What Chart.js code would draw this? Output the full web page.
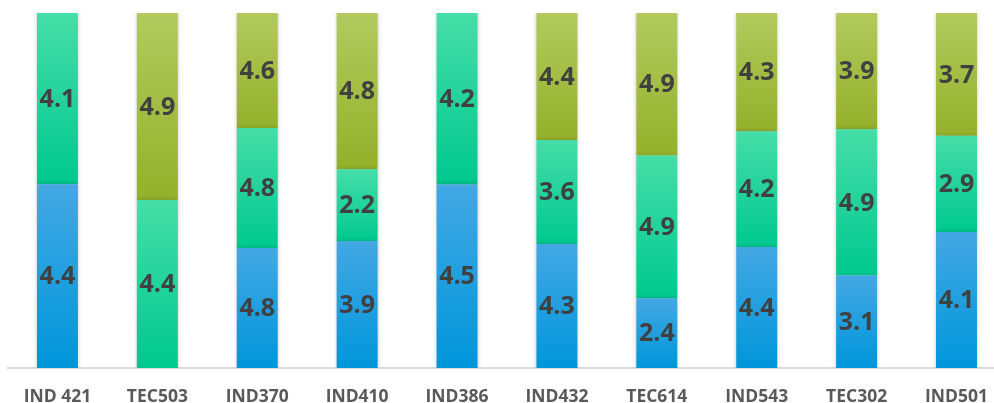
<!DOCTYPE html>
<html>
<head>
<meta charset="utf-8">
<script src="https://cdn.jsdelivr.net/npm/chart.js@4/dist/chart.umd.min.js"></script>
<style>
    html, body { margin: 0; padding: 0; background: #fff; overflow: hidden; }
    #wrap { width: 1007px; height: 427px; position: relative; }
</style>
</head>
<body>
<div id="wrap"><canvas id="chart"></canvas></div>
<script>
const categories = ['IND 421', 'TEC503', 'IND370', 'IND410', 'IND386', 'IND432', 'TEC614', 'IND543', 'TEC302', 'IND501'];
const blueValues = [4.4, null, 4.8, 3.9, 4.5, 4.3, 2.4, 4.4, 3.1, 4.1];
const greenValues = [4.1, 4.4, 4.8, 2.2, 4.2, 3.6, 4.9, 4.2, 4.9, 2.9];
const oliveValues = [null, 4.9, 4.6, 4.8, null, 4.4, 4.9, 4.3, 3.9, 3.7];

const series = [blueValues, greenValues, oliveValues];
const gradientStops = [
    ['#43a8e4', '#0096da'],
    ['#46dda8', '#00c98e'],
    ['#b2ca5e', '#95b02a']
];

// totals per category so the stack fills 100%
const totals = categories.map((c, i) => series.reduce((s, arr) => s + (arr[i] || 0), 0));
const percents = series.map(arr => arr.map((v, i) => v == null ? null : v / totals[i] * 100));

function segmentGradient(context) {
    const chart = context.chart;
    const area = chart.chartArea;
    if (!area || !chart.scales.y) return gradientStops[context.datasetIndex][1];
    const d = context.datasetIndex, i = context.dataIndex;
    let below = 0;
    for (let k = 0; k < d; k++) below += percents[k][i] || 0;
    const top = below + (percents[d][i] || 0);
    const y = chart.scales.y;
    const yTop = y.getPixelForValue(top);
    const yBot = y.getPixelForValue(below);
    if (!isFinite(yTop) || !isFinite(yBot) || yTop === yBot) return gradientStops[d][1];
    const g = chart.ctx.createLinearGradient(0, yTop, 0, yBot);
    g.addColorStop(0, gradientStops[d][0]);
    g.addColorStop(1, gradientStops[d][1]);
    return g;
}

const barShadow = {
    id: 'barShadow',
    beforeDatasetsDraw(chart) {
        const ctx = chart.ctx;
        ctx.save();
        ctx.shadowColor = 'rgba(0,0,0,0.22)';
        ctx.shadowBlur = 4;
        ctx.shadowOffsetX = 0;
        ctx.shadowOffsetY = 0;
    },
    afterDatasetsDraw(chart) {
        chart.ctx.restore();
    }
};

const valueLabels = {
    id: 'valueLabels',
    afterDatasetsDraw(chart) {
        const ctx = chart.ctx;
        ctx.save();
        ctx.font = 'bold 25px "Open Sans"';
        ctx.fillStyle = '#404040';
        ctx.textAlign = 'center';
        ctx.textBaseline = 'middle';
        chart.data.datasets.forEach((ds, d) => {
            const meta = chart.getDatasetMeta(d);
            meta.data.forEach((bar, i) => {
                const v = series[d][i];
                if (v == null) return;
                const p = bar.getProps(['x', 'y', 'base'], true);
                ctx.fillText(v.toFixed(1), p.x, (p.y + p.base) / 2 + 1);
            });
        });
        ctx.restore();
    }
};

const ctx = document.getElementById('chart').getContext('2d');
new Chart(ctx, {
    type: 'bar',
    data: {
        labels: categories,
        datasets: percents.map((arr, d) => ({
            data: arr,
            backgroundColor: segmentGradient,
            borderWidth: 0,
            barPercentage: 0.41,
            categoryPercentage: 1
        }))
    },
    options: {
        responsive: true,
        maintainAspectRatio: false,
        animation: false,
        layout: { padding: { left: 7.5, right: 0, top: 13, bottom: 0 } },
        plugins: {
            legend: { display: false },
            tooltip: { enabled: false }
        },
        scales: {
            x: {
                stacked: true,
                grid: { display: false, drawTicks: false },
                border: { display: true, color: '#d9d9d9', width: 2 },
                ticks: {
                    color: '#595959',
                    font: { family: 'Open Sans', weight: 'bold', size: 17.5 },
                    padding: 19,
                    maxRotation: 0,
                    autoSkip: false
                }
            },
            y: {
                stacked: true,
                display: false,
                min: 0,
                max: 100
            }
        }
    },
    plugins: [barShadow, valueLabels]
});
</script>
</body>
</html>
